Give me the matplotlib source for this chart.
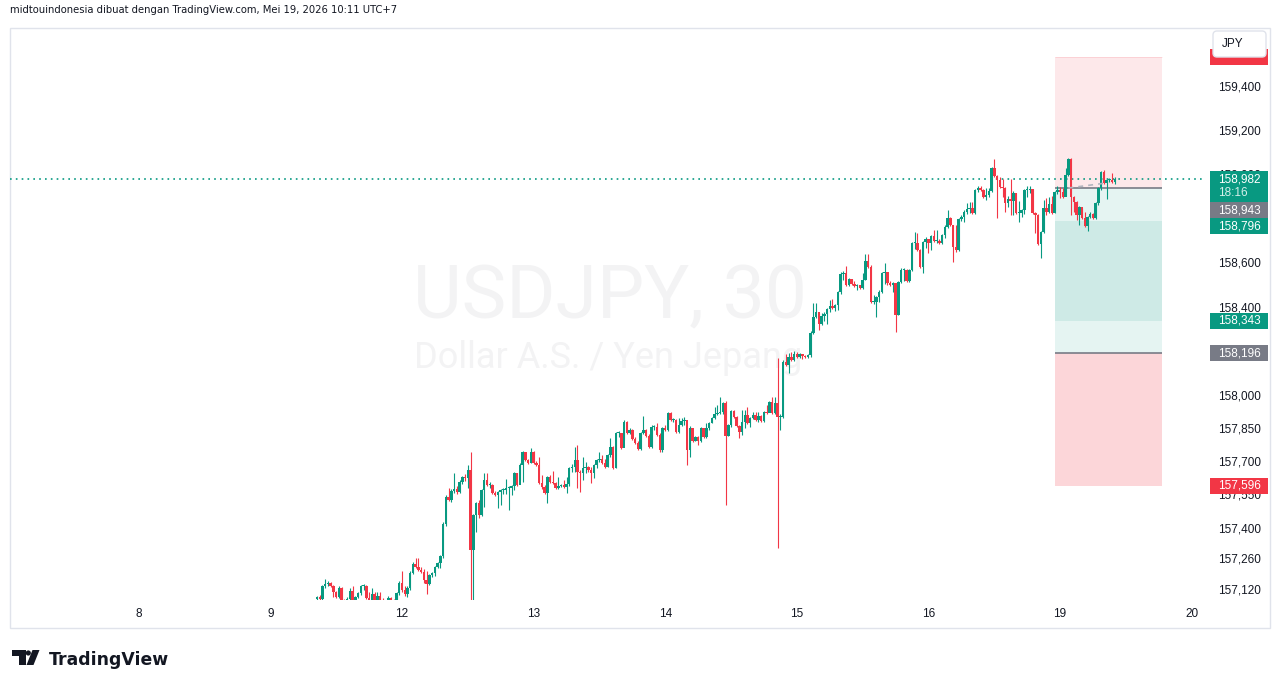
import numpy as np
import matplotlib
matplotlib.use("Agg")
import matplotlib.pyplot as plt
from matplotlib.patches import Rectangle, FancyBboxPatch, Polygon, Circle
from matplotlib.transforms import Affine2D, blended_transform_factory

# USDJPY 30 min candles, index 0 = Tue May 12 00:00 (UTC+7), 48 candles per day
first_index = -31
first_open = 157.084

closes = [
    # Mon 11
    157.093, 157.084, 157.142, 157.151, 157.156, 157.142, 157.115, 157.093, 157.133, 157.079,
    157.065, 157.084, 157.120, 157.079, 157.093, 157.111, 157.142, 157.142, 157.088, 157.079,
    157.106, 157.079, 157.097, 157.079, 157.061, 157.052, 157.088, 157.079, 157.065, 157.111,
    157.156,
    # Tue 12
    157.124, 157.106, 157.133, 157.201, 157.242, 157.228, 157.215, 157.206, 157.170, 157.151,
    157.192, 157.201, 157.228, 157.246, 157.278, 157.423, 157.545, 157.532, 157.572, 157.581,
    157.568, 157.613, 157.636, 157.631, 157.667, 157.305, 157.464, 157.518, 157.464, 157.577,
    157.622, 157.599, 157.599, 157.563, 157.554, 157.568, 157.577, 157.577, 157.586, 157.586,
    157.595, 157.654, 157.599, 157.690, 157.749, 157.713, 157.699, 157.749,
    # Wed 13
    157.699, 157.690, 157.608, 157.590, 157.563, 157.636, 157.613, 157.608, 157.586, 157.595,
    157.599, 157.590, 157.604, 157.676, 157.681, 157.713, 157.658, 157.654, 157.676, 157.681,
    157.667, 157.654, 157.690, 157.713, 157.717, 157.699, 157.681, 157.735, 157.771, 157.676,
    157.835, 157.835, 157.767, 157.884, 157.835, 157.848, 157.807, 157.789, 157.762, 157.835,
    157.848, 157.821, 157.771, 157.862, 157.862, 157.826, 157.758, 157.857,
    # Thu 14
    157.848, 157.925, 157.894, 157.894, 157.839, 157.871, 157.889, 157.894, 157.758, 157.857,
    157.798, 157.817, 157.798, 157.857, 157.817, 157.857, 157.880, 157.903, 157.921, 157.925,
    157.930, 157.970, 157.821, 157.871, 157.934, 157.907, 157.866, 157.839, 157.884, 157.916,
    157.880, 157.903, 157.916, 157.894, 157.912, 157.889, 157.930, 157.925, 157.975, 157.925,
    157.970, 157.907, 157.907, 158.156, 158.142, 158.179, 158.165, 158.192,
    # Fri 15
    158.179, 158.192, 158.183, 158.179, 158.188, 158.287, 158.360, 158.382, 158.328, 158.364,
    158.373, 158.396, 158.409, 158.400, 158.414, 158.473, 158.554, 158.559, 158.504, 158.532,
    158.509, 158.500, 158.504, 158.491, 158.527, 158.613, 158.586, 158.428, 158.428, 158.450,
    158.473, 158.559, 158.563, 158.513, 158.504, 158.513, 158.369, 158.518, 158.572, 158.572,
    158.523, 158.572, 158.694, 158.694, 158.663, 158.586, 158.699, 158.712,
    # Sat 16 / Mon 18
    158.694, 158.726, 158.703, 158.703, 158.694, 158.731, 158.767, 158.808, 158.776, 158.676,
    158.663, 158.803, 158.812, 158.835, 158.848, 158.853, 158.830, 158.934, 158.943, 158.934,
    158.903, 158.912, 158.930, 159.034, 158.998, 158.980, 158.948, 158.943, 158.875, 158.893,
    158.884, 158.921, 158.830, 158.830, 158.844, 158.934, 158.934, 158.939, 158.830, 158.821,
    158.690, 158.744, 158.853, 158.835, 158.871, 158.830, 158.925, 158.934,
    # Tue 19
    158.925, 158.903, 159.002, 159.075, 158.903, 158.880, 158.821, 158.857, 158.808, 158.771,
    158.812, 158.826, 158.808, 158.875, 158.943, 159.016, 158.966, 158.980, 158.980, 158.970,
    158.982,
]

highs = [
    157.097, 157.102, 157.147, 157.174, 157.165, 157.160, 157.147, 157.120, 157.142, 157.138,
    157.084, 157.093, 157.133, 157.142, 157.097, 157.115, 157.147, 157.151, 157.147, 157.115,
    157.133, 157.115, 157.115, 157.115, 157.088, 157.070, 157.097, 157.093, 157.084, 157.115,
    157.165,
    157.210, 157.142, 157.142, 157.210, 157.251, 157.269, 157.269, 157.228, 157.219, 157.210,
    157.197, 157.206, 157.233, 157.251, 157.282, 157.432, 157.554, 157.586, 157.581, 157.654,
    157.595, 157.622, 157.640, 157.649, 157.690, 157.749, 157.468, 157.523, 157.532, 157.581,
    157.654, 157.654, 157.613, 157.604, 157.572, 157.572, 157.581, 157.586, 157.627, 157.595,
    157.599, 157.658, 157.654, 157.699, 157.754, 157.749, 157.717, 157.767,
    157.754, 157.708, 157.726, 157.645, 157.599, 157.640, 157.645, 157.663, 157.613, 157.636,
    157.604, 157.622, 157.636, 157.681, 157.694, 157.771, 157.780, 157.667, 157.726, 157.703,
    157.685, 157.681, 157.694, 157.717, 157.749, 157.735, 157.717, 157.740, 157.812, 157.776,
    157.839, 157.844, 157.835, 157.894, 157.889, 157.857, 157.853, 157.817, 157.798, 157.839,
    157.912, 157.853, 157.830, 157.871, 157.871, 157.880, 157.835, 157.862,
    157.871, 157.930, 157.930, 157.903, 157.898, 157.903, 157.903, 157.907, 157.857, 157.866,
    157.817, 157.821, 157.821, 157.862, 157.857, 157.880, 157.884, 157.907, 157.952, 157.961,
    157.998, 157.975, 157.979, 157.875, 157.939, 157.939, 157.912, 157.871, 157.939, 157.939,
    157.952, 157.907, 157.930, 157.930, 157.930, 157.916, 157.934, 157.961, 157.979, 157.998,
    157.998, 158.174, 157.921, 158.165, 158.192, 158.197, 158.201, 158.206,
    158.201, 158.197, 158.192, 158.188, 158.192, 158.296, 158.423, 158.423, 158.378, 158.378,
    158.382, 158.400, 158.437, 158.441, 158.418, 158.477, 158.563, 158.568, 158.590, 158.536,
    158.532, 158.523, 158.509, 158.504, 158.559, 158.645, 158.645, 158.595, 158.459, 158.455,
    158.482, 158.563, 158.604, 158.554, 158.523, 158.518, 158.513, 158.523, 158.581, 158.581,
    158.577, 158.577, 158.699, 158.744, 158.740, 158.667, 158.703, 158.721,
    158.712, 158.731, 158.753, 158.753, 158.712, 158.735, 158.776, 158.844, 158.812, 158.776,
    158.776, 158.807, 158.821, 158.844, 158.875, 158.880, 158.880, 158.939, 158.952, 158.952,
    158.939, 158.943, 158.943, 159.038, 159.075, 159.002, 158.993, 158.984, 158.948, 158.907,
    158.984, 158.930, 158.921, 158.884, 158.848, 158.939, 158.952, 158.952, 158.939, 158.835,
    158.826, 158.749, 158.889, 158.898, 158.903, 158.907, 158.930, 158.952,
    158.948, 158.943, 159.034, 159.079, 159.079, 158.907, 158.884, 158.862, 158.853, 158.835,
    158.817, 158.835, 158.830, 158.880, 158.948, 159.020, 159.025, 158.984, 158.989, 159.011,
    158.993,
]

lows = [
    157.079, 157.079, 157.074, 157.133, 157.142, 157.138, 157.093, 157.088, 157.088, 157.070,
    157.052, 157.061, 157.079, 157.074, 157.074, 157.088, 157.102, 157.124, 157.084, 157.074,
    157.074, 157.070, 157.070, 157.065, 157.047, 157.034, 157.047, 157.070, 157.052, 157.061,
    157.102,
    157.115, 157.097, 157.093, 157.124, 157.197, 157.224, 157.210, 157.201, 157.156, 157.106,
    157.147, 157.183, 157.188, 157.224, 157.224, 157.269, 157.414, 157.527, 157.523, 157.563,
    157.559, 157.563, 157.604, 157.617, 157.586, 157.056, 157.056, 157.387, 157.450, 157.459,
    157.500, 157.595, 157.586, 157.559, 157.550, 157.495, 157.509, 157.559, 157.559, 157.486,
    157.554, 157.577, 157.595, 157.622, 157.613, 157.708, 157.694, 157.699,
    157.694, 157.685, 157.604, 157.581, 157.559, 157.518, 157.608, 157.604, 157.581, 157.581,
    157.590, 157.586, 157.563, 157.595, 157.658, 157.658, 157.586, 157.568, 157.622, 157.654,
    157.658, 157.608, 157.631, 157.676, 157.703, 157.694, 157.676, 157.681, 157.726, 157.672,
    157.676, 157.817, 157.762, 157.803, 157.830, 157.830, 157.803, 157.785, 157.758, 157.758,
    157.830, 157.817, 157.767, 157.767, 157.848, 157.821, 157.749, 157.749,
    157.844, 157.844, 157.889, 157.884, 157.835, 157.835, 157.866, 157.871, 157.690, 157.726,
    157.794, 157.798, 157.780, 157.794, 157.812, 157.812, 157.848, 157.880, 157.898, 157.916,
    157.921, 157.921, 157.509, 157.821, 157.862, 157.903, 157.862, 157.812, 157.826, 157.857,
    157.875, 157.862, 157.898, 157.889, 157.884, 157.884, 157.884, 157.921, 157.930, 157.921,
    157.921, 157.314, 157.848, 157.903, 158.138, 158.106, 158.161, 158.161,
    158.174, 158.174, 158.170, 158.174, 158.174, 158.179, 158.283, 158.355, 158.301, 158.323,
    158.341, 158.328, 158.382, 158.396, 158.387, 158.391, 158.464, 158.527, 158.500, 158.500,
    158.504, 158.495, 158.482, 158.486, 158.486, 158.527, 158.581, 158.423, 158.418, 158.360,
    158.428, 158.468, 158.509, 158.504, 158.500, 158.473, 158.292, 158.369, 158.513, 158.523,
    158.518, 158.518, 158.568, 158.667, 158.658, 158.581, 158.559, 158.672,
    158.649, 158.663, 158.699, 158.694, 158.690, 158.690, 158.717, 158.762, 158.771, 158.609,
    158.654, 158.658, 158.794, 158.789, 158.825, 158.830, 158.825, 158.825, 158.925, 158.930,
    158.898, 158.889, 158.903, 158.925, 158.993, 158.808, 158.943, 158.903, 158.835, 158.857,
    158.821, 158.821, 158.825, 158.789, 158.812, 158.825, 158.903, 158.921, 158.825, 158.740,
    158.685, 158.627, 158.740, 158.821, 158.830, 158.825, 158.830, 158.916,
    158.898, 158.898, 158.907, 158.998, 158.821, 158.835, 158.798, 158.776, 158.803, 158.767,
    158.749, 158.808, 158.803, 158.803, 158.866, 158.934, 158.961, 158.893, 158.970, 158.966,
    158.961,
]

day_ticks = [-96, -48, 0, 48, 96, 144, 192, 240, 288]
day_labels = ['8', '9', '12', '13', '14', '15', '16', '19', '20']

price_ticks = [159.4, 159.2, 159.0, 158.6, 158.4, 158.0,
               157.85, 157.7, 157.55, 157.4, 157.26, 157.12]

last_price = 158.982
countdown = '18:16'

# position tools drawn on the chart
pos_x0, pos_x1 = 238, 277
pos_top = 159.536
pos_entry = 158.943
pos_mid_hi = 158.796
pos_mid_lo = 158.343
pos_stop = 158.196
pos_bottom = 157.596

GREEN = '#089981'
RED = '#f23645'
GRAY = '#787b86'
TXT = '#131722'

W, H = 1281, 688
fig = plt.figure(figsize=(W / 100, H / 100), dpi=100)
fig.patch.set_facecolor('white')
# pixel coords with origin top-left
px = Affine2D().scale(1 / W, -1 / H).translate(0, 1) + fig.transFigure

ax = fig.add_axes([10 / W, (H - 600) / H, 1195 / W, 572 / H])
ax.set_xlim(-142.96, 292.85)
ax.set_ylim(157.079, 159.667)
ax.axis('off')
ax.patch.set_visible(False)


def ypx(p):
    return H - ax.transData.transform((0, p))[1]


def fmt(p):
    return ('%.3f' % p).replace('.', ',')


# watermark
ax.text(610, 318, 'USDJPY, 30', transform=px, ha='center', va='baseline',
        fontsize=54, family='Roboto', color='#f3f3f4', zorder=0)
ax.text(608, 368, 'Dollar A.S. / Yen Jepang', transform=px, ha='center', va='baseline',
        fontsize=26, family='Roboto', color='#f3f3f4', zorder=0)

# position tool zones
def zone(p0, p1, color, alpha):
    ax.add_patch(Rectangle((pos_x0, p0), pos_x1 - pos_x0, p1 - p0, facecolor=color,
                           alpha=alpha, lw=0, zorder=1))

zone(pos_entry, pos_top, RED, 0.11)
zone(pos_stop, pos_entry, GREEN, 0.10)
zone(pos_mid_lo, pos_mid_hi, GREEN, 0.10)
zone(pos_bottom, pos_stop, RED, 0.20)
ax.hlines([pos_entry, pos_stop], pos_x0, pos_x1, color=GRAY, lw=1.2, zorder=2)
ax.hlines([pos_top], pos_x0, pos_x1, color=RED, lw=0.6, alpha=0.15, zorder=2)

# current price line
ax.axhline(last_price, color=GREEN, lw=1.2, ls=(0, (1, 2.5)), zorder=2)

# candles
x = np.arange(first_index, first_index + len(closes))
c = np.array(closes)
h = np.array(highs)
l = np.array(lows)
o = np.concatenate([[first_open], c[:-1]])
cols = np.where(c >= o, GREEN, RED)
ax.vlines(x, l, h, colors=cols, lw=0.8, zorder=3)
ax.bar(x, np.maximum(np.abs(c - o), 0.0045), bottom=np.minimum(o, c), width=0.9,
       color=cols, lw=0, zorder=4)

# faint trend drawing on the last day
ax.plot([243, 257], [158.943, 158.966], color='#b2b5be', lw=1.2, ls=(0, (3, 3)), zorder=5)

# time axis
tx = blended_transform_factory(ax.transData, px)
for t, lab in zip(day_ticks, day_labels):
    ax.text(t, 614, lab, transform=tx, ha='center', va='center', fontsize=8.5,
            family='Liberation Sans', color=TXT, clip_on=False)

# price axis
ty = blended_transform_factory(px, ax.transData)
for v in price_ticks:
    fig.text(1218, v, fmt(v), transform=ty, ha='left', va='center', fontsize=8.5,
             family='Liberation Sans', color=TXT, zorder=1)


def pbox(x0, y0, x1, y1, color, z=2, **kw):
    fig.add_artist(Rectangle((x0, y0), x1 - x0, y1 - y0, transform=px, facecolor=color,
                             lw=0, zorder=z, **kw))


# hidden top tag behind the currency button
yt = ypx(pos_top)
pbox(1210, yt - 8, 1268, yt + 8, RED)

tags = [(last_price, [fmt(last_price), countdown], GREEN),
        (pos_entry, [fmt(pos_entry)], GRAY),
        (pos_mid_hi, [fmt(pos_mid_hi)], GREEN),
        (pos_mid_lo, [fmt(pos_mid_lo)], GREEN),
        (pos_stop, [fmt(pos_stop)], GRAY),
        (pos_bottom, [fmt(pos_bottom)], RED)]
prev_bottom = -1e9
for p, lines, col in tags:
    top = ypx(p) - 8
    hh = 16 if len(lines) == 1 else 31
    if top < prev_bottom:
        top = prev_bottom
    pbox(1210, top, 1268, top + hh, col)
    for k, s in enumerate(lines):
        fig.text(1218, top + 8 + 14 * k, s, transform=px, ha='left', va='center',
                 fontsize=8.5, family='Liberation Sans',
                 color='white' if k == 0 else '#d5efea', zorder=3)
    prev_bottom = top + hh

# currency button
fig.add_artist(FancyBboxPatch((1213, 31), 53, 26, transform=px,
                              boxstyle='round,pad=0,rounding_size=4',
                              facecolor='white', edgecolor='#e0e3eb', lw=1, zorder=4))
fig.text(1222, 44, 'JPY', transform=px, ha='left', va='center', fontsize=8.5,
         family='Liberation Sans', color=TXT, zorder=5)

# chart frame
fig.add_artist(Rectangle((10, 28), 1260, 600, transform=px, fill=False,
                         edgecolor='#e0e3eb', lw=1, zorder=0))

# header
fig.text(10, 10, 'midtouindonesia dibuat dengan TradingView.com, Mei 19, 2026 10:11 UTC+7',
         transform=px, ha='left', va='center', fontsize=7.2, family='DejaVu Sans', color=TXT)

# footer logo
fig.add_artist(Polygon([(12, 650), (25.5, 650), (25.5, 665), (19, 665), (19, 655.5), (12, 655.5)],
                       closed=True, transform=px, facecolor=TXT, lw=0))
fig.add_artist(Circle((28.3, 653), 2.6, transform=px, facecolor=TXT, lw=0))
fig.add_artist(Polygon([(32.5, 650), (39.5, 650), (33.5, 665), (26.5, 665)],
                       closed=True, transform=px, facecolor=TXT, lw=0))
fig.text(49, 665, 'TradingView', transform=px, ha='left', va='baseline', fontsize=12.4,
         family='DejaVu Sans', fontweight='bold', color=TXT)

fig.savefig('out.png', dpi=100, facecolor='white')
